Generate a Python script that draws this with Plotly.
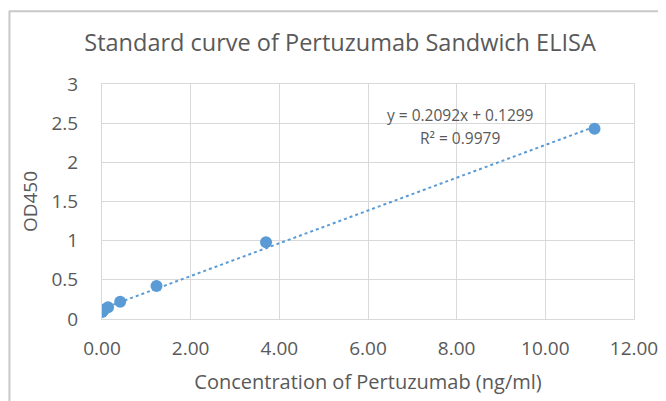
import plotly.graph_objects as go

# Data
conc = [0.0, 0.015, 0.046, 0.137, 0.41, 1.23, 3.70, 11.11]
od450 = [0.09, 0.10, 0.12, 0.15, 0.22, 0.42, 0.98, 2.43]
slope = 0.2092
intercept = 0.1299
r2 = 0.9979
x_ticks = [0, 2, 4, 6, 8, 10, 12]
x_tick_labels = ["0.00", "2.00", "4.00", "6.00", "8.00", "10.00", "12.00"]
y_ticks = [0, 0.5, 1, 1.5, 2, 2.5, 3]
y_tick_labels = ["0", "0.5", "1", "1.5", "2", "2.5", "3"]

trend_x = [min(conc), max(conc)]
trend_y = [slope * v + intercept for v in trend_x]

BLUE = "#5b9bd5"
TXT = "#595959"
GRID = "#d9d9d9"
BORDER = "#c8c8c8"
FONT = "Open Sans"

fig = go.Figure()
fig.add_trace(go.Scatter(x=trend_x, y=trend_y, mode="lines",
                         line=dict(color=BLUE, width=2, dash="dot"),
                         hoverinfo="skip", showlegend=False))
fig.add_trace(go.Scatter(x=conc, y=od450, mode="markers",
                         marker=dict(color=BLUE, size=12),
                         showlegend=False))

fig.add_annotation(x=8.08, y=2.6, xref="x", yref="y",
                   text=f"y = {slope}x + {intercept}", showarrow=False,
                   font=dict(family=FONT, size=15.5, color=TXT))
fig.add_annotation(x=8.08, y=2.31, xref="x", yref="y",
                   text=f"R² = {r2}", showarrow=False,
                   font=dict(family=FONT, size=15.5, color=TXT))

# outer chart border (top and left edges)
fig.add_shape(type="line", xref="paper", yref="paper",
              x0=-0.175, x1=1.1, y0=1.31, y1=1.31,
              line=dict(color=BORDER, width=2), layer="above")
fig.add_shape(type="line", xref="paper", yref="paper",
              x0=-0.174, x1=-0.174, y0=-0.5, y1=1.31,
              line=dict(color=BORDER, width=2), layer="above")

fig.update_layout(
    width=658, height=393,
    margin=dict(l=94, r=32, t=76, b=82, autoexpand=False),
    paper_bgcolor="white", plot_bgcolor="white",
    font=dict(family=FONT, color=TXT),
    title=dict(text="Standard curve of Pertuzumab Sandwich ELISA",
               x=0.5046, xanchor="center", y=0.911, yanchor="middle",
               xref="container", yref="container",
               font=dict(family=FONT, size=23.5, color=TXT)),
    xaxis=dict(range=[0, 12], tickvals=x_ticks, ticktext=x_tick_labels,
               showgrid=True, gridcolor=GRID, gridwidth=1,
               zeroline=False, showline=True, linecolor=GRID,
               mirror=True, ticks="", ticklabelstandoff=12,
               tickfont=dict(family=FONT, size=19, color=TXT),
               title=dict(text="Concentration of Pertuzumab (ng/ml)",
                          font=dict(family=FONT, size=20, color=TXT),
                          standoff=15)),
    yaxis=dict(range=[0, 3], tickvals=y_ticks, ticktext=y_tick_labels,
               showgrid=True, gridcolor=GRID, gridwidth=1,
               zeroline=False, showline=True, linecolor=GRID,
               mirror=True, ticks="", ticklabelstandoff=19,
               tickfont=dict(family=FONT, size=19, color=TXT),
               title=dict(text="OD450",
                          font=dict(family=FONT, size=19, color=TXT),
                          standoff=8)),
)

fig.write_html("out.html")
